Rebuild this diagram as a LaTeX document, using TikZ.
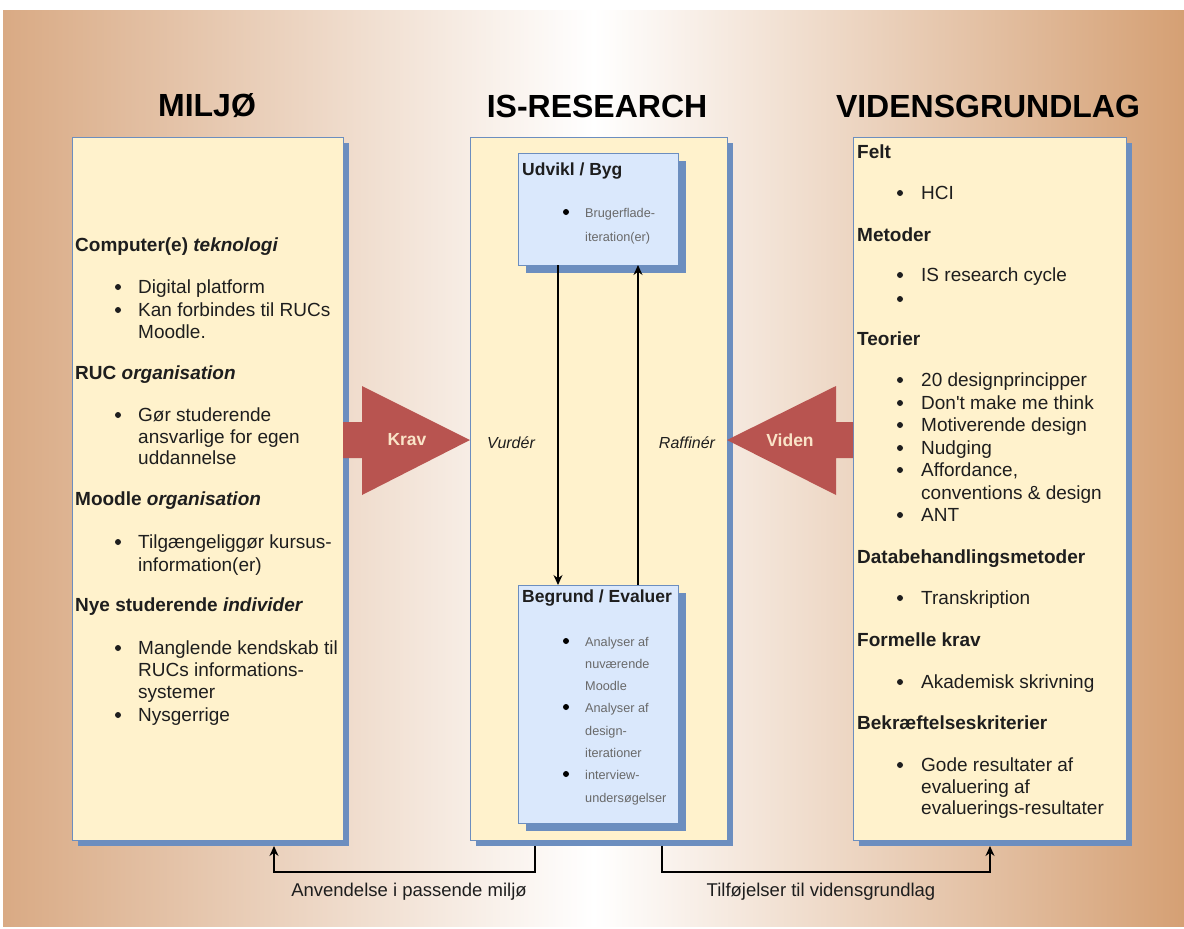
\documentclass[tikz,border=0pt]{standalone}
\usepackage{fontspec}
\setmainfont{Liberation Sans}[Ligatures=TeXOff]
\usetikzlibrary{shadows,calc,arrows.meta}
\definecolor{tanL}{RGB}{217,170,132}
\definecolor{tanR}{RGB}{213,160,116}
\definecolor{shblue}{RGB}{108,142,191}
\definecolor{boxfill}{RGB}{255,242,204}
\definecolor{innerfill}{RGB}{218,232,252}
\definecolor{redarr}{RGB}{184,84,80}
\definecolor{arrtxt}{RGB}{250,228,200}
\definecolor{txt}{RGB}{30,30,30}
\definecolor{gtxt}{RGB}{105,105,105}
\begin{document}
\begin{tikzpicture}[x=1pt,y=-1pt,
  bigbox/.style={draw=shblue, line width=1pt, fill=boxfill, inner sep=0, outer sep=0,
    drop shadow={shadow xshift=6pt,shadow yshift=-6pt,fill=shblue,opacity=1}},
  smallbox/.style={draw=shblue, line width=1pt, fill=innerfill, inner sep=0, outer sep=0,
    drop shadow={shadow xshift=8pt,shadow yshift=-8pt,fill=shblue,opacity=1}},
  hdr/.style={font=\fontsize{32}{38}\selectfont\bfseries, text=black, inner sep=0},
  sec/.style={font=\fontsize{19}{22}\selectfont\bfseries, text=txt, anchor=mid west, inner sep=0, yshift=-4pt},
  item/.style={font=\fontsize{19}{22}\selectfont, text=txt, anchor=mid west, inner sep=0, yshift=-4pt},
  dot/.style={circle, fill=txt, inner sep=0, minimum size=6pt},
  small/.style={font=\fontsize{12.7}{15}\selectfont, text=gtxt, anchor=mid west, inner sep=0, yshift=-3pt},
  sdot/.style={circle, fill=black, inner sep=0, minimum size=6pt},
  ttl/.style={font=\fontsize{17.5}{21}\selectfont\bfseries, text=txt, anchor=mid west, inner sep=0, yshift=-3pt},
  lbl/.style={font=\fontsize{16}{19}\selectfont\itshape, text=txt, inner sep=0},
  conn/.style={font=\fontsize{18.5}{22}\selectfont, text=txt, inner sep=0, yshift=-3pt},
  arr/.style={line width=1.2pt, draw=black, -{Stealth[length=10pt,width=9pt]}},
  bigarr/.style={fill=redarr},
  arrlbl/.style={font=\fontsize{17.5}{21}\selectfont\bfseries, text=arrtxt, inner sep=0}
]
\useasboundingbox (0,0) rectangle (1184,929);
\fill[white] (0,0) rectangle (1184,929);
\shade[left color=tanL, right color=tanR, middle color=white] (3,10) rectangle (1184,926);

% headers
\node[hdr] (h1) at (207,106) {MILJØ};
\node[hdr] (h2) at (597,106) {IS-RESEARCH};
\node[hdr] (h3) at (988,106) {VIDENSGRUNDLAG};

% main boxes
\node[bigbox, minimum width=271, minimum height=703] (lbox) at (207.5,488.5) {};
\node[bigbox, minimum width=257, minimum height=703] (cbox) at (598.5,488.5) {};
\node[bigbox, minimum width=273, minimum height=703] (rbox) at (989.5,488.5) {};

% inner boxes
\node[smallbox, minimum width=160, minimum height=112] (top) at (598,209) {};
\node[smallbox, minimum width=160, minimum height=238] (bot) at (598,704) {};

% inner arrows
\coordinate (ax1) at (558,0);
\coordinate (ax2) at (638,0);
\draw[arr] (ax1 |- top.south) -- (ax1 |- bot.north);
\draw[arr] (ax2 |- bot.north) -- (ax2 |- top.south);

% big red arrows
\fill[bigarr] (343,422) -- (362,422) -- (362,386) -- (470,440) -- (362,495) -- (362,458) -- (343,458) -- cycle;
\node[arrlbl] (krav) at (407,440) {Krav};
\fill[bigarr] (853,422) -- (836,422) -- (836,386) -- (727,440) -- (836,495) -- (836,458) -- (853,458) -- cycle;
\node[arrlbl] (viden) at (790,440) {Viden};

\node[lbl] (vurder) at (511,443) {Vurdér};
\node[lbl] (raffiner) at (687,443) {Raffinér};

% left box text
\node[sec] (lh1) at (75,245) {Computer(e) \textit{teknologi}};
\node[sec] (lh2) at (75,373) {RUC \textit{organisation}};
\node[sec] (lh3) at (75,499) {Moodle \textit{organisation}};
\node[sec] (lh4) at (75,605) {Nye studerende \textit{individer}};
\foreach \y/\t/\b [count=\i] in {287/Digital platform/1, 310/Kan forbindes til RUCs/1, 332/Moodle./0,
  415/Gør studerende/1, 437/ansvarlige for egen/0, 458/uddannelse/0,
  542/Tilgængeliggør kursus-/1, 565/information(er)/0,
  648/Manglende kendskab til/1, 670/RUCs informations-/0, 692/systemer/0, 715/Nysgerrige/1}{
  \node[item] (li\i) at (138,\y) {\t};
  \ifnum\b=1 \node[dot] (lb\i) at (118,\y) {}; \fi
}

% right box text
\node[sec] (rh1) at (857,152) {Felt};
\node[sec] (rh2) at (857,235) {Metoder};
\node[sec] (rh3) at (857,339) {Teorier};
\node[sec] (rh4) at (857,557) {Databehandlingsmetoder};
\node[sec] (rh5) at (857,640) {Formelle krav};
\node[sec] (rh6) at (857,723) {Bekræftelseskriterier};
\foreach \y/\t/\b [count=\i] in {193/HCI/1, 275/IS research cycle/1, 299/{}/1,
  380/20 designprincipper/1, 403/Don't make me think/1, 425/Motiverende design/1,
  448/Nudging/1, 470/{Affordance,}/1, 493/conventions \& design/0, 515/ANT/1,
  598/Transkription/1, 682/Akademisk skrivning/1,
  765/Gode resultater af/1, 787/evaluering af/0, 808/evaluerings-resultater/0}{
  \node[item] (ri\i) at (921,\y) {\t};
  \ifnum\b=1 \node[dot] (rb\i) at (900,\y) {}; \fi
}

% inner box text
\node[ttl] (t1) at (522,170) {Udvikl / Byg};
\node[ttl] (t2) at (522,597) {Begrund / Evaluer};
\foreach \y/\t/\b [count=\i] in {212/Brugerflade-/1, 236/iteration(er)/0,
  641/Analyser af/1, 663/nuværende/0, 685/Moodle/0,
  707/Analyser af/1, 730/design-/0, 752/iterationer/0,
  774/interview-/1, 797/undersøgelser/0}{
  \node[small] (si\i) at (585,\y) {\t};
  \ifnum\b=1 \node[sdot] (sb\i) at (566,\y) {}; \fi
}

% bottom connectors
\coordinate (p1) at (535,872);
\coordinate (p2) at (274,872);
\coordinate (p3) at (662,872);
\coordinate (p4) at (990,872);
\draw[arr] ($(cbox.south -| p1)+(0,6)$) -- (p1) -- (p2) -- ($(lbox.south -| p2)+(0,6)$);
\draw[arr] ($(cbox.south -| p3)+(0,6)$) -- (p3) -- (p4) -- ($(rbox.south -| p4)+(0,6)$);
\node[conn] (c1) at (409,889) {Anvendelse i passende miljø};
\node[conn] (c2) at (821,889) {Tilføjelser til vidensgrundlag};
\end{tikzpicture}
\end{document}
